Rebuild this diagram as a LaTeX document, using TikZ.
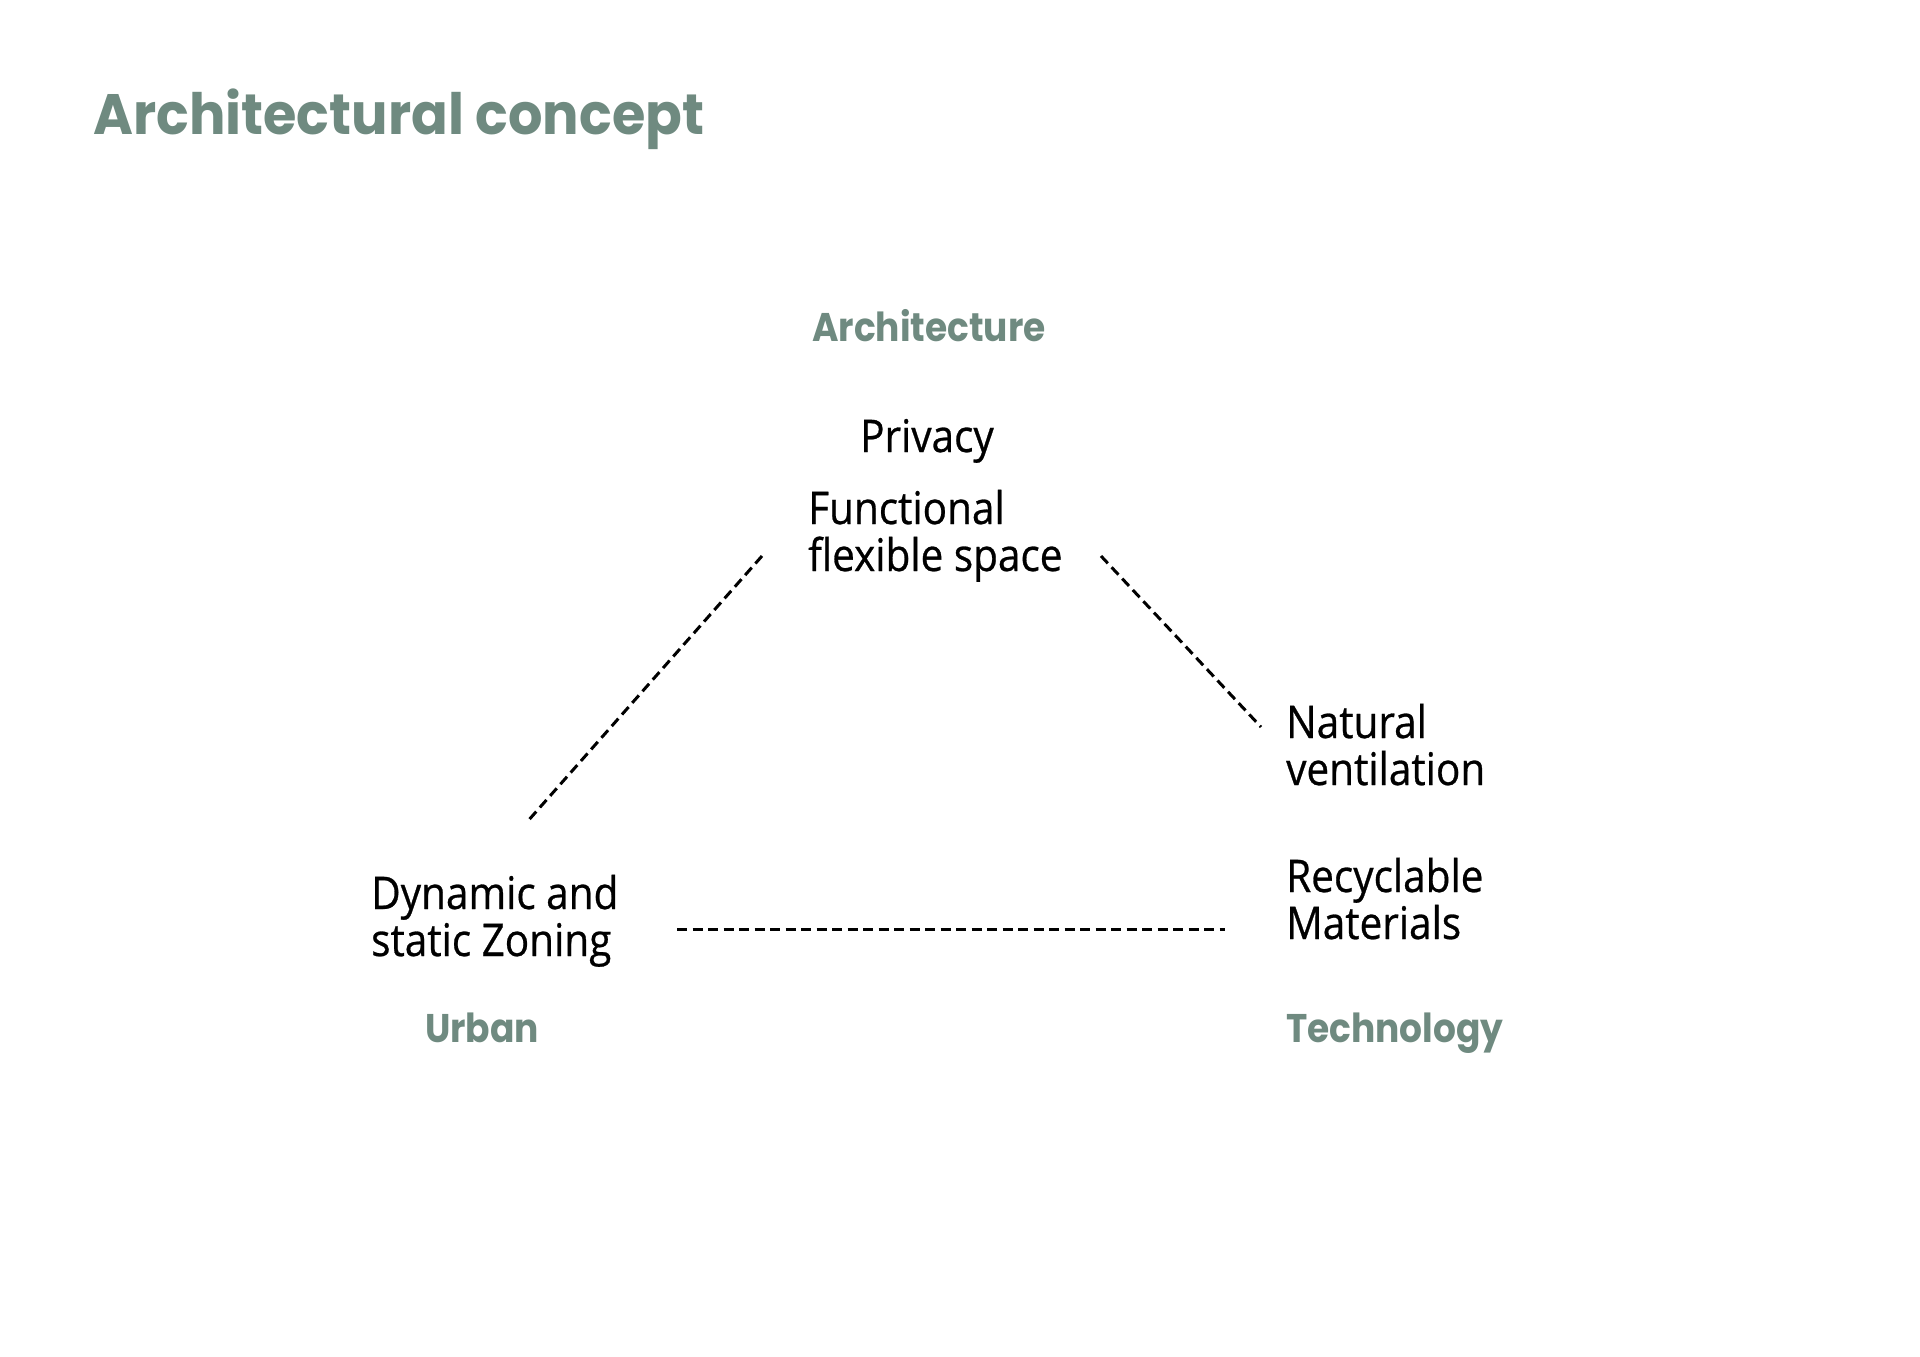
\documentclass[tikz,border=0pt]{standalone}
\usepackage{fontspec}
\setmainfont{Open Sans}[FakeStretch=0.9, FakeBold=0.6]
\newfontfamily\headfont{Poppins}[FakeStretch=0.95]
\newfontfamily\polefont{Poppins}[FakeStretch=0.9]
\definecolor{sage}{RGB}{111,138,128}

\begin{document}
\begin{tikzpicture}[x=1bp, y=1bp,
  title/.style={anchor=base west, inner sep=0, text=sage, font=\headfont\bfseries\fontsize{57bp}{60bp}\selectfont},
  pole/.style={inner sep=0, text=sage, font=\polefont\bfseries\fontsize{40bp}{44bp}\selectfont},
  idea/.style={anchor=base west, inner sep=0, align=left, font=\fontsize{45bp}{47bp}\selectfont},
  link/.style={line width=3bp, dash pattern=on 10bp off 5.5bp}]
  \useasboundingbox (0,0) rectangle (1920,-1357);
  % 标题
  \node[title] (title) at (93,-135) {Architectural concept};
  % 三个角
  \node[pole, anchor=base] (arch) at (929,-342) {Architecture};
  \node[pole, anchor=base west] (urban) at (425,-1042) {Urban};
  \node[pole, anchor=base west] (tech) at (1286,-1042) {Technology};
  % 概念
  \node[idea, anchor=base] (privacy) at (927,-452) {Privacy};
  \node[idea] (flex) at (808,-571) {Functional\\flexible space};
  \node[idea] (vent) at (1286,-785) {Natural\\ventilation};
  \node[idea] (recyc) at (1286,-939) {Recyclable\\Materials};
  \node[idea] (zone) at (371,-956) {Dynamic and\\static Zoning};
  % 虚线端点
  \coordinate (A1) at (762,-556);
  \coordinate (U1) at (527,-822);
  \coordinate (A2) at (1101,-556);
  \coordinate (T1) at (1261,-727);
  \coordinate (U2) at (677,-929);
  \coordinate (T2) at (1225,-929);
  \draw[link] (A1) -- (U1);
  \draw[link] (A2) -- (T1);
  \draw[link] (U2) -- (T2);
\end{tikzpicture}
\end{document}
